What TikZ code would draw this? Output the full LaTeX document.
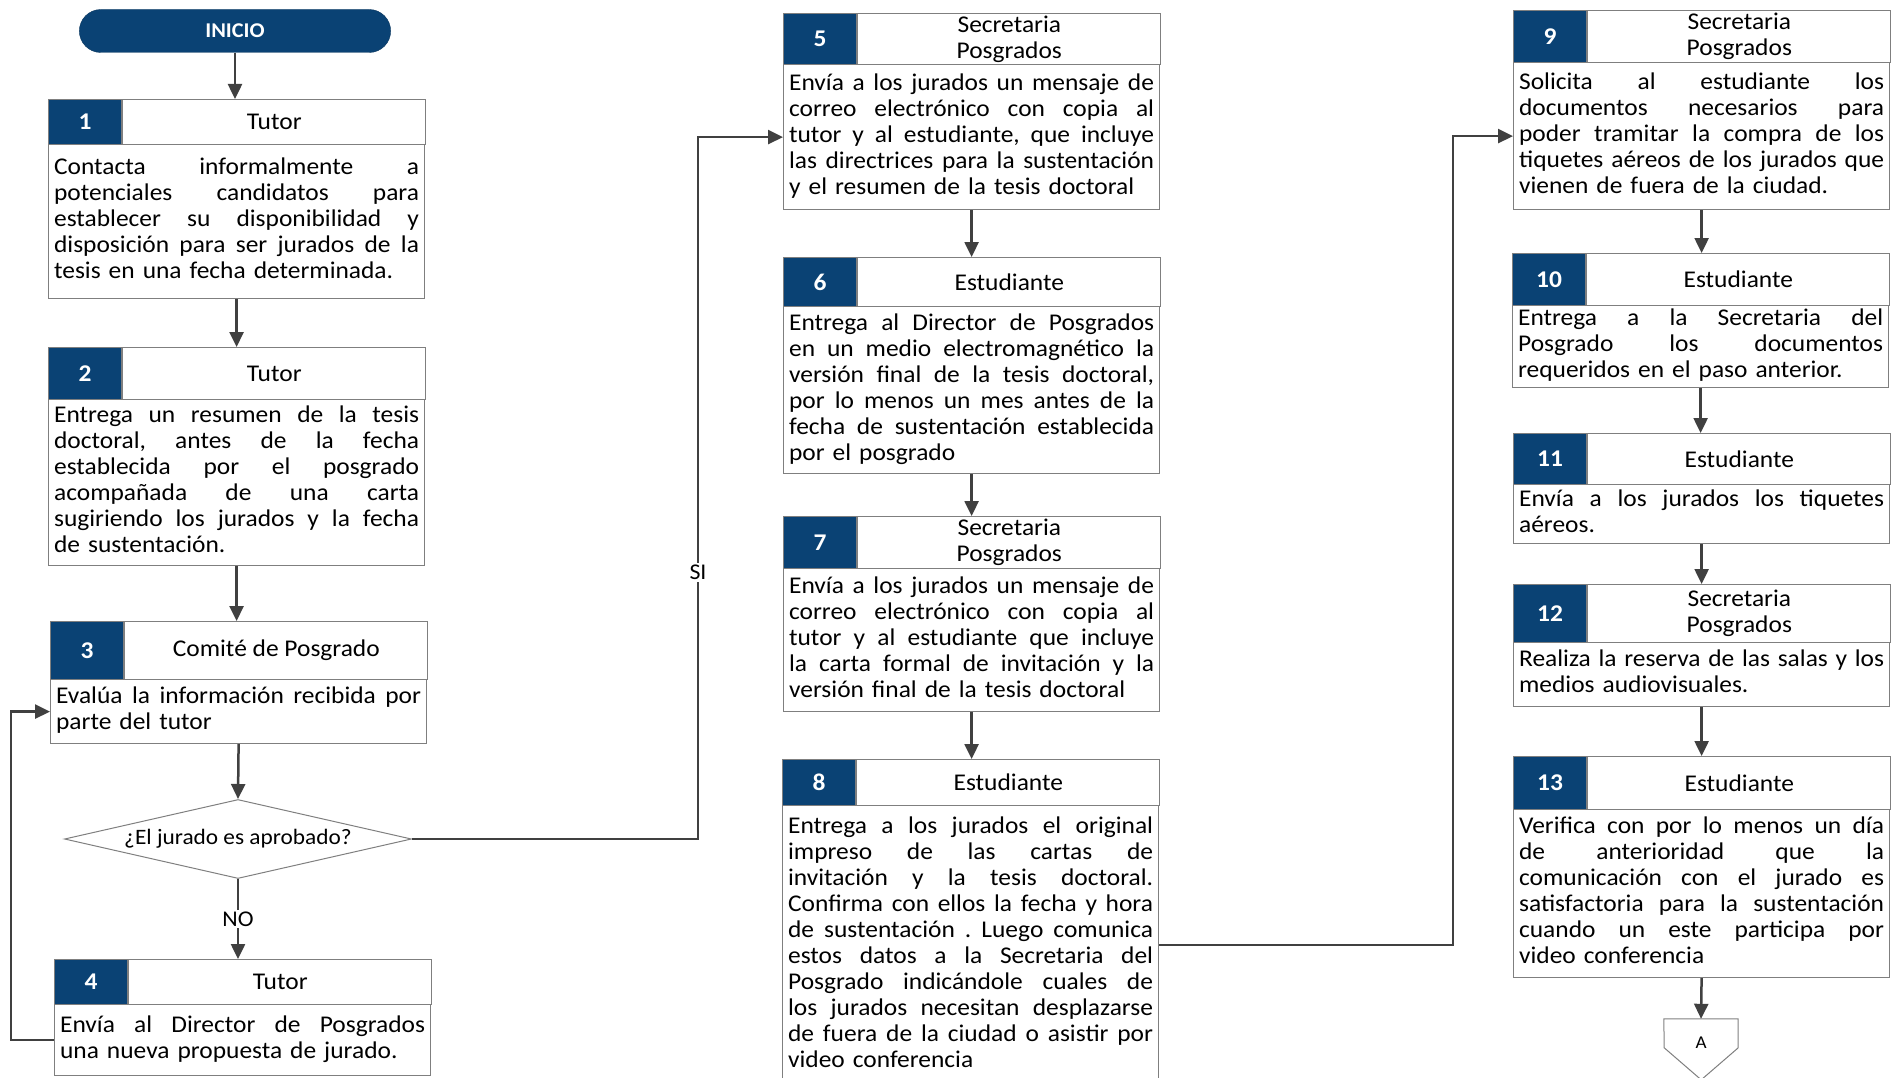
\documentclass[tikz,border=0pt]{standalone}
\usepackage{fontspec}
\setmainfont{Carlito}[FakeStretch=1.06]
\usetikzlibrary{shapes,positioning,arrows.meta}
\tikzset{>={Triangle[length=15pt,width=14pt]}}
\definecolor{azul}{HTML}{0A4274}
\definecolor{borde}{HTML}{7F7F7F}
\definecolor{linea}{HTML}{404040}
\newcommand{\letra}{\fontsize{24}{26}\selectfont}
\tikzset{
	numcel/.style={draw=borde, fill=azul, text=white, font=\letra\bfseries, minimum width=73pt, inner sep=0pt, line width=1.2pt},
	rolcel/.style={draw=borde, fill=white, font=\letra, minimum width=303pt, inner sep=0pt, align=center, line width=1.2pt},
	cuerpo/.style={draw=borde, font=\letra, minimum width=376pt, text width=365pt, inner xsep=5.5pt, inner ysep=2pt, line width=1.2pt},
	inicio/.style={rounded rectangle, draw=azul!80!black, fill=azul, text=white, font=\fontsize{21}{24}\selectfont\bfseries, minimum width=318pt, minimum height=43pt},
	decision/.style={diamond, draw=borde, aspect=4.4, minimum width=347pt, minimum height=79pt, inner sep=0pt, font=\fontsize{22}{26}\selectfont, line width=1pt},
	rotulo/.style={fill=white, inner sep=2pt, font=\fontsize{22.5}{26}\selectfont},
	flecha/.style={draw=linea, line width=2.5pt, ->},
}
% una linea justificada del texto: cada espacio pasa a \hfill
\ExplSyntaxOn
\NewDocumentCommand{\fila}{m}{
	\tl_set:Nn \l_tmpa_tl {#1}
	\tl_replace_all:Nnn \l_tmpa_tl {~} {\hfill}
	\hbox~to~365pt{\strut \l_tmpa_tl}\newline
}
\ExplSyntaxOff
% paso: nombre, x, y arriba, y encabezado, y abajo, numero, responsable, texto
\newcommand{\paso}[8]{%
	\node[numcel, minimum height={#4-#3}, anchor=north west] (#1n) at (#2,#3) {#6};
	\node[rolcel, minimum height={#4-#3}, right=0pt of #1n] (#1r) {#7};
	\node[cuerpo, minimum height={#5-#4}, anchor=north west] (#1) at (#2,#4) {\noindent#8};
}
\begin{document}
\begin{tikzpicture}[x=1pt,y=-1pt]
	\useasboundingbox (0,0) rectangle (1902,1078);
	\node[inicio] (ini) at (235,31) {INICIO};
	\paso{p1}{48}{99}{144}{298}{1}{Tutor}{\fila{Contacta informalmente a}\fila{potenciales candidatos para}\fila{establecer su disponibilidad y}\fila{disposición para ser jurados de la}\strut tesis en una fecha determinada.}
	\paso{p2}{48}{347}{399}{565}{2}{Tutor}{\fila{Entrega un resumen de la tesis}\fila{doctoral, antes de la fecha}\fila{establecida por el posgrado}\fila{acompañada de una carta}\fila{sugiriendo los jurados y la fecha}\strut de sustentación.}
	\paso{p3}{50}{621}{679}{743}{3}{Comité de Posgrado}{\fila{Evalúa la información recibida por}\strut parte del tutor}
	\node[decision] (dec) at (238,839) {¿El jurado es aprobado?};
	\paso{p4}{54}{959}{1004}{1075}{4}{Tutor}{\fila{Envía al Director de Posgrados}\strut una nueva propuesta de jurado.}
	\paso{p5}{783}{13}{64}{209}{5}{Secretaria\\Posgrados}{\fila{Envía a los jurados un mensaje de}\fila{correo electrónico con copia al}\fila{tutor y al estudiante, que incluye}\fila{las directrices para la sustentación}\strut y el resumen de la tesis doctoral}
	\paso{p6}{783}{257}{306}{473}{6}{Estudiante}{\fila{Entrega al Director de Posgrados}\fila{en un medio electromagnético la}\fila{versión final de la tesis doctoral,}\fila{por lo menos un mes antes de la}\fila{fecha de sustentación establecida}\strut por el posgrado}
	\paso{p7}{783}{516}{568}{711}{7}{Secretaria\\Posgrados}{\fila{Envía a los jurados un mensaje de}\fila{correo electrónico con copia al}\fila{tutor y al estudiante que incluye}\fila{la carta formal de invitación y la}\strut versión final de la tesis doctoral}
	\paso{p8}{782}{759}{805}{1084}{8}{Estudiante}{\fila{Entrega a los jurados el original}\fila{impreso de las cartas de}\fila{invitación y la tesis doctoral.}\fila{Confirma con ellos la fecha y hora}\fila{de sustentación . Luego comunica}\fila{estos datos a la Secretaria del}\fila{Posgrado indicándole cuales de}\fila{los jurados necesitan desplazarse}\fila{de fuera de la ciudad o asistir por}\strut video conferencia}
	\paso{p9}{1513}{10}{62}{209}{9}{Secretaria\\Posgrados}{\fila{Solicita al estudiante los}\fila{documentos necesarios para}\fila{poder tramitar la compra de los}\fila{tiquetes aéreos de los jurados que}\strut vienen de fuera de la ciudad.}
	\paso{p10}{1512}{253}{305}{386}{10}{Estudiante}{\fila{Entrega a la Secretaria del}\fila{Posgrado los documentos}\strut requeridos en el paso anterior.}
	\paso{p11}{1513}{433}{484}{543}{11}{Estudiante}{\fila{Envía a los jurados los tiquetes}\strut aéreos.}
	\paso{p12}{1513}{584}{642}{706}{12}{Secretaria\\Posgrados}{\fila{Realiza la reserva de las salas y los}\strut medios audiovisuales.}
	\paso{p13}{1513}{756}{809}{977}{13}{Estudiante}{\fila{Verifica con por lo menos un día}\fila{de anterioridad que la}\fila{comunicación con el jurado es}\fila{satisfactoria para la sustentación}\fila{cuando un este participa por}\strut video conferencia}
	\node[font=\fontsize{18}{20}\selectfont, minimum width=74pt, minimum height=48pt, inner sep=0pt] (conA) at (1701,1043) {A};
	\draw[borde, line width=1pt] (conA.north west) -- (conA.north east) -- ++(0,29) -- ++(-37,32) -- ++(-37,-32) -- cycle;
	% conectores
	\draw[flecha] (ini.south) -- (ini.south |- p1n.north);
	\foreach \a/\b in {p1/p2n, p2/p3n, p5/p6n, p6/p7n, p7/p8n, p9/p10n, p10/p11n, p11/p12n, p12/p13n}
		\draw[flecha] (\a.south) -- (\a.south |- \b.north);
	\draw[flecha] (p3.south) -- (dec.north);
	\draw[flecha] (dec.south) -- node[rotulo] {NO} (dec.south |- p4n.north);
	\draw[flecha] (p4.west) -- ++(-43,0) |- (p3.west);
	\draw[flecha] (dec.east) -- ++(286,0) |- node[rotulo, pos=0.19] {SI} (p5.west);
	\draw[flecha] (p8.east) -- ++(294,0) |- (p9.west);
	\draw[flecha] (p13.south) -- (conA.north);
\end{tikzpicture}
\end{document}
